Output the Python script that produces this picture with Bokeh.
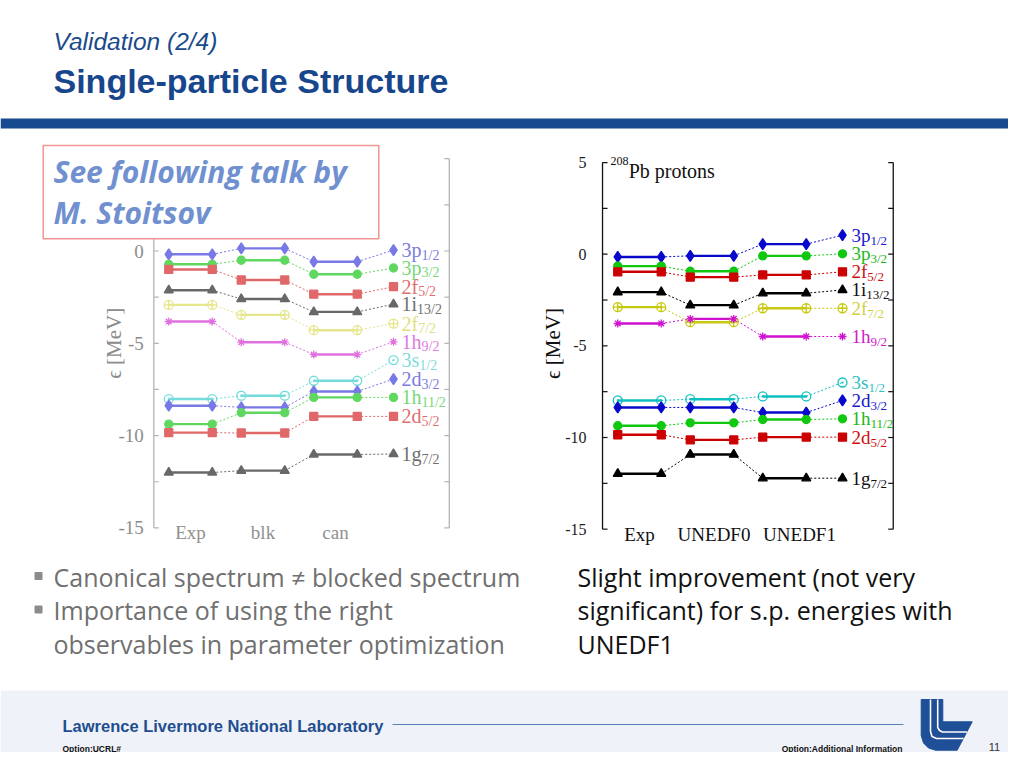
import math
from bokeh.plotting import figure
from bokeh.models import Range1d, ColumnDataSource
from bokeh.embed import file_html
from bokeh.resources import INLINE
from bokeh.core.properties import value

# ------------------------------------------------------------------ data
orbitals = ["3p", "3p", "2f", "1i", "2f", "1h", "3s", "2d", "1h", "2d", "1g"]
orbital_j = ["1/2", "3/2", "5/2", "13/2", "7/2", "9/2", "1/2", "3/2", "11/2", "5/2", "7/2"]

left_categories = ["Exp", "blk", "can"]
left_exp = [-0.18, -0.72, -1.00, -2.13, -2.92, -3.82, -8.02, -8.38, -9.38, -9.84, -12.00]
left_blk = [0.14, -0.50, -1.57, -2.60, -3.46, -4.94, -7.84, -8.47, -8.76, -9.86, -11.90]
left_can = [-0.58, -1.26, -2.34, -3.30, -4.29, -5.61, -7.03, -7.61, -7.93, -8.96, -11.02]
left_label_y = [0.05, -0.92, -1.93, -2.88, -3.93, -4.92, -5.91, -6.94, -7.93, -8.96, -11.00]

right_categories = ["Exp", "UNEDF0", "UNEDF1"]
right_exp = [-0.15, -0.65, -0.96, -2.07, -2.89, -3.78, -7.98, -8.36, -9.36, -9.85, -11.98]
right_unedf0 = [-0.09, -0.93, -1.25, -2.78, -3.71, -3.53, -7.91, -8.36, -9.20, -10.13, -10.93]
right_unedf1 = [0.55, -0.09, -1.13, -2.13, -2.95, -4.49, -7.76, -8.64, -9.02, -9.98, -12.22]
right_label_y = [1.04, 0.02, -0.96, -1.95, -2.95, -4.49, -7.00, -7.98, -8.98, -9.98, -12.22]

y_tick_values = [-15, -12.5, -10, -7.5, -5, -2.5, 0, 2.5, 5]
y_tick_labels = ["-15", "", "-10", "", "-5", "", "0", "", "5"]
y_axis_title = "\u03f5 [MeV]"

header_small = "Validation (2/4)"
header_big = "Single-particle Structure"
box_lines = ["See following talk by", "M. Stoitsov"]
bullet_lines = ["Canonical spectrum \u2260 blocked spectrum", "Importance of using the right",
                "observables in parameter optimization"]
right_lines = ["Slight improvement (not very", "significant) for s.p. energies with", "UNEDF1"]

# ------------------------------------------------------------------ styles
markers = ["diamond", "circle", "square", "triangle", "circle_cross", "asterisk",
           "circle_dot", "diamond", "circle", "square", "triangle"]
filled = [1, 1, 1, 1, 0, 1, 0, 1, 1, 1, 1]
msize = {"diamond": 11, "circle": 8, "square": 8, "triangle": 9, "circle_cross": 9,
         "asterisk": 8, "circle_dot": 9}

right_line_cols = ["#0808cc", "#10c810", "#cc0000", "#000000", "#c8c810", "#d010d0",
                   "#10c0c0", "#0808cc", "#10c810", "#cc0000", "#000000"]
right_text_cols = ["#1818cc", "#20b820", "#cc1010", "#111111", "#d0d040", "#cc20cc",
                   "#30c0c0", "#1818cc", "#20b820", "#cc1010", "#111111"]
left_line_cols = ["#7878e6", "#60d860", "#e06868", "#686868", "#e6e68c", "#e070e0",
                  "#74dcdc", "#7878e6", "#60d860", "#e06868", "#686868"]
left_text_cols = ["#7c7ce0", "#78d878", "#e07070", "#707070", "#e0e080", "#e07ce0",
                  "#80dcdc", "#7c7ce0", "#78d878", "#e07070", "#707070"]

TIMES_W = {"1": .5, "2": .5, "3": .5, "p": .5, "f": .333, "i": .278, "h": .5,
           "s": .389, "d": .5, "g": .5}

# slide pixel coordinates covered by the figure
X0P, X1P, Y_TOP, Y_BOT = 0, 1008, 0, 752
W, H = X1P - X0P, Y_BOT - Y_TOP

p = figure(width=W, height=H, x_range=Range1d(X0P, X1P), y_range=Range1d(Y_BOT, Y_TOP),
           output_backend="svg", toolbar_location=None, x_axis_type=None, y_axis_type=None,
           min_border=0)
p.outline_line_color = None
p.grid.visible = False
p.background_fill_color = "white"
p.border_fill_color = "white"


def add_chart_ranges(name, col0_px, step_px, zero_px, px_per_unit):
    p.extra_x_ranges[name] = Range1d((X0P - col0_px) / step_px, (X1P - col0_px) / step_px)
    p.extra_y_ranges[name] = Range1d((zero_px - Y_BOT) / px_per_unit, (zero_px - Y_TOP) / px_per_unit)


add_chart_ranges("L", 190.0, 72.5, 250.5, 18.46)
add_chart_ranges("R", 639.0, 72.5, 253.7, 18.33)

HALF = 0.3
LABX = 2.8


def draw_chart(rn, cats, cols, lab_y, line_cols, text_cols, st):
    kw = dict(x_range_name=rn, y_range_name=rn)
    n = len(cols)
    ymin, ymax = y_tick_values[0], y_tick_values[-1]
    p.segment(x0=[st["ax_l"], st["ax_r"]], y0=[ymin, ymin], x1=[st["ax_l"], st["ax_r"]],
              y1=[ymax, ymax], line_color=st["axis_col"], line_width=1.3, **kw)
    tl = st["tick_px"] / 72.5
    tx0, tx1, ty = [], [], []
    for t in y_tick_values:
        tx0 += [st["ax_l"], st["ax_r"] - tl]
        tx1 += [st["ax_l"] + tl, st["ax_r"]]
        ty += [t, t]
    p.segment(x0=tx0, y0=ty, x1=tx1, y1=ty, line_color=st["axis_col"], line_width=1.2, **kw)
    p.text(x=[st["ylab"][0]], y=[st["ylab"][1]], text=[y_axis_title], angle=math.pi / 2,
           text_align="center", text_baseline="middle", text_font=value("Liberation Serif"),
           text_font_size=st["ylab_fs"], text_color=st["ylab_col"], **kw)
    lv = [(t, s) for t, s in zip(y_tick_values, y_tick_labels) if s]
    p.text(x=[st["ax_l"]] * len(lv), y=[t for t, _ in lv], text=[s for _, s in lv],
           x_offset=st["tick_dx"], text_align="right", text_baseline="middle",
           text_font=value("Liberation Serif"), text_font_size=st["tick_fs"],
           text_color=st["tick_col"], **kw)
    p.text(x=list(range(n)), y=[ymin] * n, text=cats, x_offset=st["cat_dx"], y_offset=st["cat_dy"],
           text_align="center", text_baseline="middle", text_font=value("Liberation Serif"),
           text_font_size=st["cat_fs"], text_color=st["cat_col"], **kw)
    cx0, cy0, cx1, cy1, cc = [], [], [], [], []
    for k in range(len(orbitals)):
        for i in range(n - 1):
            cx0.append(i + HALF); cy0.append(cols[i][k])
            cx1.append(i + 1 - HALF); cy1.append(cols[i + 1][k]); cc.append(line_cols[k])
        cx0.append(n - 1 + HALF); cy0.append(cols[-1][k])
        cx1.append(LABX); cy1.append(lab_y[k]); cc.append(line_cols[k])
    p.segment(x0=cx0, y0=cy0, x1=cx1, y1=cy1, line_color=cc, line_width=1,
              line_dash="2 2", **kw)
    sx0, sx1, sy, sc = [], [], [], []
    for i, col in enumerate(cols):
        for k, v in enumerate(col):
            sx0.append(i - HALF); sx1.append(i + HALF); sy.append(v); sc.append(line_cols[k])
    p.segment(x0=sx0, y0=sy, x1=sx1, y1=sy, line_color=sc, line_width=2.4, **kw)
    mx, my, mm, mc, mf, ms = [], [], [], [], [], []
    for k in range(len(orbitals)):
        pts = []
        for i, col in enumerate(cols):
            pts += [(i - HALF, col[k]), (i + HALF, col[k])]
        pts.append((LABX, lab_y[k]))
        for x, y in pts:
            mx.append(x); my.append(y); mm.append(markers[k]); mc.append(line_cols[k])
            mf.append(1.0 if filled[k] else 0.0); ms.append(msize[markers[k]] * st["mscale"])
    src = ColumnDataSource(dict(x=mx, y=my, m=mm, c=mc, fa=mf, s=ms))
    p.scatter(x="x", y="y", marker="m", size="s", line_color="c", fill_color="c",
              fill_alpha="fa", line_width=1.3, source=src, **kw)
    nk = len(orbitals)
    p.text(x=[LABX] * nk, y=lab_y, text=orbitals, x_offset=st["lab_dx"], text_baseline="middle",
           text_font=value("Liberation Serif"), text_font_size="%dpx" % st["lab_fs"],
           text_color=text_cols, **kw)
    sub_dx = [st["lab_dx"] + sum(TIMES_W[ch] for ch in o) * st["lab_fs"] for o in orbitals]
    p.text(x=[LABX] * nk, y=lab_y, text=orbital_j, x_offset=sub_dx, y_offset=st["sub_dy"],
           text_baseline="middle", text_font=value("Liberation Serif"),
           text_font_size="%dpx" % st["sub_fs"], text_color=text_cols, **kw)


left_style = dict(ax_l=-0.506, ax_r=3.57, axis_col="#b4b4b4", tick_px=5, tick_dx=-10,
                  tick_fs="19px", tick_col="#8c8c8c", cat_dx=[0, 0, 0], cat_dy=5, cat_fs="19px",
                  cat_col="#909090", ylab=(-1.05, -5.0), ylab_fs="21px", ylab_col="#8c8c8c",
                  lab_dx=8, lab_fs=20, sub_fs=14, sub_dy=5, mscale=1.0)
right_style = dict(ax_l=-0.51, ax_r=3.5, axis_col="#111111", tick_px=5, tick_dx=-16,
                   tick_fs="16px", tick_col="#222222", cat_dx=[0, 2, 15], cat_dy=5, cat_fs="19px",
                   cat_col="#111111", ylab=(-1.19, -4.87), ylab_fs="21px", ylab_col="#111111",
                   lab_dx=9, lab_fs=19, sub_fs=13, sub_dy=5, mscale=1.0)

# ------------------------------------------------------------------ header
p.text(x=[53], y=[41], text=[header_small], text_font=value("Liberation Sans"),
       text_font_style="italic", text_font_size="24.5px", text_color="#1b4a8c",
       text_baseline="alphabetic")
p.text(x=[53], y=[80], text=[header_big], text_font=value("Liberation Sans"),
       text_font_style="bold", text_font_size="34px", text_color="#17468c",
       text_baseline="alphabetic")
p.quad(left=[X0P], right=[X1P], top=[118], bottom=[128], fill_color="#174a8e", line_color=None)

# ------------------------------------------------------------------ charts
draw_chart("L", left_categories, [left_exp, left_blk, left_can], left_label_y,
           left_line_cols, left_text_cols, left_style)
draw_chart("R", right_categories, [right_exp, right_unedf0, right_unedf1], right_label_y,
           right_line_cols, right_text_cols, right_style)

p.text(x=[-0.40], y=[5.07], text=["208"], text_font=value("Liberation Serif"),
       text_font_size="12px", text_color="#111111", text_baseline="alphabetic",
       x_range_name="R", y_range_name="R")
p.text(x=[-0.15], y=[4.53], text=["Pb protons"], text_font=value("Liberation Serif"),
       text_font_size="20px", text_color="#111111", text_baseline="alphabetic",
       x_range_name="R", y_range_name="R")

# ------------------------------------------------------------------ callout box
p.quad(left=[42.7], right=[378.3], top=[145], bottom=[238.3], fill_color="white",
       line_color="#f09494", line_width=1.5)
p.text(x=[53, 53], y=[171.2, 211.7], text=box_lines, text_font=value("Open Sans"),
       text_font_style="bold italic", text_font_size="30px", text_color="#7090d0",
       text_baseline="alphabetic")

# ------------------------------------------------------------------ bullets / text
p.scatter(x=[38, 38], y=[575.5, 609], marker="square", size=7, color="#8c8c8c")
p.text(x=[53, 53, 53], y=[576, 609.5, 643], text=bullet_lines, text_font=value("Open Sans"),
       text_font_size="25px", text_color="#707070", text_baseline="alphabetic")
p.text(x=[577, 577, 577], y=[576, 609.5, 643], text=right_lines, text_font=value("Open Sans"),
       text_font_size="25px", text_color="#111111", text_baseline="alphabetic")

# ------------------------------------------------------------------ footer
p.quad(left=[X0P], right=[X1P], top=[690], bottom=[Y_BOT], fill_color="#eff2f9", line_color=None)
p.text(x=[62], y=[725], text=["Lawrence Livermore National Laboratory"],
       text_font=value("Liberation Sans"), text_font_style="bold", text_font_size="16.5px",
       text_color="#1f4e8f", text_baseline="alphabetic")
p.segment(x0=[392], y0=[724], x1=[903], y1=[724], line_color="#5b7fb5", line_width=1)
p.text(x=[62], y=[748], text=["Option:UCRL#"], text_font=value("Liberation Sans"),
       text_font_style="bold", text_font_size="8.5px", text_color="#111111",
       text_baseline="alphabetic")
p.text(x=[902], y=[748], text=["Option:Additional Information"], text_font=value("Liberation Sans"),
       text_font_style="bold", text_font_size="8.5px", text_color="#111111",
       text_baseline="alphabetic", text_align="right")
p.text(x=[994], y=[746], text=["11"], text_font=value("Liberation Sans"),
       text_font_size="11px", text_color="#333333", text_baseline="alphabetic", text_align="center")
p.patch(x=[920.7, 942.3, 942.3, 971.7, 956.7, 935, 928, 923, 920.7],
        y=[699, 699, 721.3, 721.3, 749.7, 749.7, 747.5, 742.5, 735],
        fill_color="#1f4f96", line_color="#1f4f96")
p.multi_line(xs=[[930, 930, 931.5, 936, 963], [937.2, 937.2, 939, 942, 966.5]],
             ys=[[699, 731, 736, 738, 738], [699, 727, 730, 731.5, 731.5]],
             line_color="white", line_width=1.6)

open("out.html", "w").write(file_html(p, INLINE))
